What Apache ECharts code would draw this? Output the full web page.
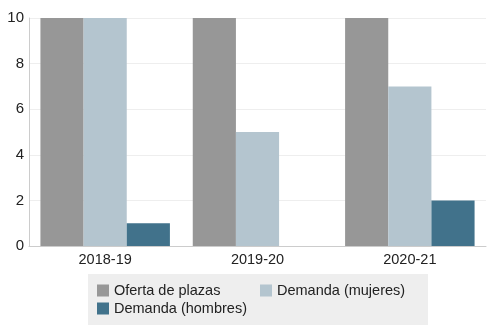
<!DOCTYPE html>
<html>
<head>
<meta charset="utf-8">
<script src="https://cdn.jsdelivr.net/npm/echarts@6/dist/echarts.min.js"></script>
<style>
html,body{margin:0;padding:0;background:#fff;}
#chart{width:494px;height:335px;}
</style>
</head>
<body>
<div id="chart"></div>
<script>
const categories = ['2018-19', '2019-20', '2020-21'];
const oferta = [10, 10, 10];
const demandaMujeres = [10, 5, 7];
const demandaHombres = [1, 0, 2];
const yTicks = { min: 0, max: 10, interval: 2 };
const seriesNames = ['Oferta de plazas', 'Demanda (mujeres)', 'Demanda (hombres)'];

const font = 'Liberation Sans, Arial, sans-serif';
const legendText = { fontSize: 14.5, color: '#222', fontFamily: font };
const chart = echarts.init(document.getElementById('chart'));
chart.setOption({
  animation: false,
  textStyle: { fontFamily: font },
  grid: { left: 29, right: 8, top: 18, bottom: 89, containLabel: false },
  legend: [
    {
      // left column, carries the shaded box
      orient: 'vertical', left: 88, top: 274,
      backgroundColor: '#eeeeee',
      padding: [9, 181, 9, 9],
      itemWidth: 12, itemHeight: 12, itemGap: 3, icon: 'rect',
      textStyle: legendText,
      data: [seriesNames[0], seriesNames[2]]
    },
    {
      // right column
      orient: 'vertical', left: 260, top: 283, z: 6,
      padding: 0,
      itemWidth: 12, itemHeight: 12, itemGap: 3, icon: 'rect',
      textStyle: legendText,
      data: [seriesNames[1]]
    }
  ],
  xAxis: {
    type: 'category', data: categories,
    axisTick: { show: false },
    axisLine: { lineStyle: { color: '#cccccc' } },
    axisLabel: { fontSize: 14.5, color: '#222', margin: 6 }
  },
  yAxis: {
    type: 'value', min: yTicks.min, max: yTicks.max, interval: yTicks.interval,
    axisLine: { show: true, lineStyle: { color: '#cccccc' } },
    axisLabel: { fontSize: 15, color: '#222', margin: 5 },
    splitLine: { lineStyle: { color: '#eeeeee' } }
  },
  series: [
    { name: seriesNames[0], type: 'bar', data: oferta, itemStyle: { color: '#979797' }, barGap: '0%', barCategoryGap: '15%' },
    { name: seriesNames[1], type: 'bar', data: demandaMujeres, itemStyle: { color: '#b4c5cf' } },
    { name: seriesNames[2], type: 'bar', data: demandaHombres, itemStyle: { color: '#41728b' } }
  ]
});
</script>
</body>
</html>
